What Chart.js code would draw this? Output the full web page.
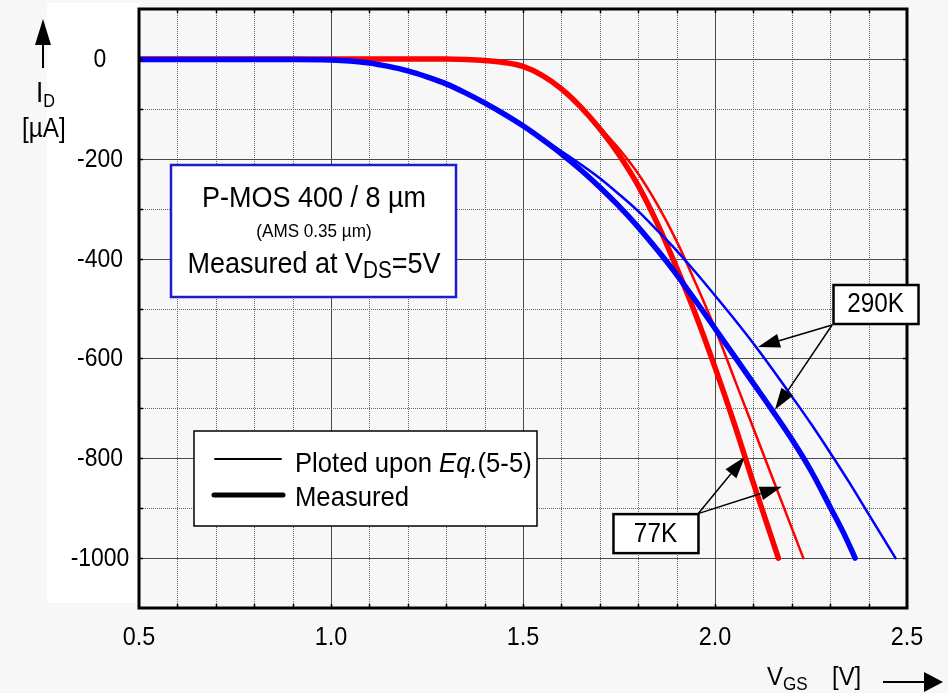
<!DOCTYPE html>
<html>
<head>
<meta charset="utf-8">
<title>P-MOS I_D(V_GS)</title>
<script src="https://cdn.jsdelivr.net/npm/chart.js@4.4.0/dist/chart.umd.min.js"></script>
<style>
  html, body { margin: 0; background: #f7f7f7; }
  canvas { display: block; }
</style>
</head>
<body>
<canvas id="chart" width="948" height="693"></canvas>
<script>
// Datos: V_GS [V] e I_D [µA]
const vgs290Meas = [0.5, 0.9, 1.0, 1.05, 1.1, 1.15, 1.2, 1.25, 1.3, 1.35, 1.4, 1.45, 1.5, 1.55, 1.6, 1.65, 1.7,
  1.75, 1.8, 1.85, 1.9, 1.95, 2.0, 2.05, 2.1, 2.15, 2.2, 2.25, 2.3, 2.335, 2.365];
const id290Meas = [-1, -1, -2, -4, -8, -15, -24, -36, -50, -68, -88, -110, -134, -161, -190, -222, -257,
  -295, -337, -383, -432, -485, -540, -595, -650, -705, -762, -825, -898, -950, -1000];

const vgs290Eq = [0.5, 0.9, 1.0, 1.05, 1.1, 1.15, 1.2, 1.25, 1.3, 1.35, 1.4, 1.45, 1.5, 1.55, 1.6, 1.65, 1.7,
  1.75, 1.8, 1.85, 1.9, 1.95, 2.0, 2.05, 2.1, 2.15, 2.2, 2.25, 2.3, 2.35, 2.4, 2.47];
const id290Eq = [-1, -1, -2, -4, -8, -15, -24, -36, -50, -68, -88, -110, -134, -160, -185, -211, -239,
  -271, -305, -344, -384, -428, -474, -521, -570, -622, -676, -731, -789, -849, -912, -1000];

const vgs77Meas = [0.5, 1.0, 1.3, 1.35, 1.4, 1.45, 1.5, 1.55, 1.6, 1.65, 1.7, 1.75, 1.8, 1.85, 1.9, 1.95,
  2.0, 2.05, 2.1, 2.165];
const id77Meas = [0, 0, 0, -1, -3, -7, -15, -33, -60, -96, -140, -192, -254, -330, -418, -513,
  -618, -730, -850, -1000];

const vgs77Eq = [0.5, 1.0, 1.3, 1.35, 1.4, 1.45, 1.5, 1.55, 1.6, 1.65, 1.7, 1.75, 1.8, 1.85, 1.9, 1.95,
  2.0, 2.05, 2.1, 2.15, 2.2, 2.23];
const id77Eq = [0, 0, 0, -1, -3, -7, -15, -33, -60, -96, -137, -180, -230, -292, -365, -450,
  -540, -640, -740, -840, -940, -1000];

// Etiquetas de los ejes
const xTickValues = [0.5, 1.0, 1.5, 2.0, 2.5];
const xTickLabels = ['0.5', '1.0', '1.5', '2.0', '2.5'];
const yTickValues = [0, -200, -400, -600, -800, -1000];
const yTickLabels = ['0', '-200', '-400', '-600', '-800', '-1000'];

// Anotaciones (en unidades de datos): caja y puntas de flecha
const label290 = { text: '290K', x: 2.418, y: -491, from: [2.305, -533], tips: [[2.112, -577], [2.156, -703]] };
const label77  = { text: '77K',  x: 1.845, y: -950, from: [1.956, -911], tips: [[2.078, -797], [2.174, -857]] };

const FONT = "'Liberation Sans', Arial, sans-serif";
const SX = 0.9; // la fuente original es algo estrecha
const RED = '#ff0000';
const BLUE = '#0000ff';

function pts(xs, ys) {
  return xs.map((v, i) => ({ x: v, y: ys[i] }));
}

// Texto estrecho; devuelve el ancho dibujado
function txt(ctx, s, x, y, size, opts = {}) {
  ctx.save();
  ctx.font = `${opts.italic ? 'italic ' : ''}${size}px ${FONT}`;
  ctx.textAlign = opts.align || 'left';
  ctx.textBaseline = opts.base || 'alphabetic';
  ctx.translate(x, y);
  ctx.scale(SX, 1);
  ctx.fillText(s, 0, 0);
  const w = ctx.measureText(s).width * SX;
  ctx.restore();
  return w;
}

function txtWidth(ctx, s, size) {
  ctx.font = `${size}px ${FONT}`;
  return ctx.measureText(s).width * SX;
}

// Texto con subíndice
function drawSub(ctx, x, y, main, sub, size, subSize, rest) {
  let w = txt(ctx, main, x, y, size);
  w += txt(ctx, sub, x + w, y + size * 0.18, subSize);
  if (rest) w += txt(ctx, rest, x + w, y, size);
  return w;
}

function arrow(ctx, x0, y0, x1, y1, len, half) {
  const ang = Math.atan2(y1 - y0, x1 - x0);
  const bx = x1 - len * Math.cos(ang), by = y1 - len * Math.sin(ang);
  ctx.beginPath();
  ctx.moveTo(x0, y0);
  ctx.lineTo(bx, by);
  ctx.stroke();
  ctx.beginPath();
  ctx.moveTo(x1, y1);
  ctx.lineTo(bx + half * Math.sin(ang), by - half * Math.cos(ang));
  ctx.lineTo(bx - half * Math.sin(ang), by + half * Math.cos(ang));
  ctx.closePath();
  ctx.fill();
}

const decor = {
  id: 'decor',
  beforeDatasetsDraw(chart) {
    const { ctx, chartArea: a, scales: { x, y } } = chart;
    ctx.save();
    // panel blanco detrás de las etiquetas del eje Y
    ctx.fillStyle = '#ffffff';
    ctx.fillRect(47, 3, a.left - 47, 600);

    // rejilla: cada 0.1 V y cada 100 µA; mayores sólidas, menores punteadas
    ctx.lineWidth = 1;
    for (let i = 1; i < 20; i++) {
      const px = Math.round(x.getPixelForValue(0.5 + i * 0.1)) + 0.5;
      const major = i % 5 === 0;
      ctx.strokeStyle = major ? '#4a4a4a' : '#666';
      ctx.setLineDash(major ? [] : [1, 1]);
      ctx.beginPath();
      ctx.moveTo(px, a.top);
      ctx.lineTo(px, a.bottom);
      ctx.stroke();
    }
    for (let j = 0; j <= 10; j++) {
      const py = Math.round(y.getPixelForValue(-j * 100)) + 0.5;
      const major = j % 2 === 0;
      ctx.strokeStyle = major ? '#4a4a4a' : '#666';
      ctx.setLineDash(major ? [] : [1, 1]);
      ctx.beginPath();
      ctx.moveTo(a.left, py);
      ctx.lineTo(a.right, py);
      ctx.stroke();
    }
    ctx.restore();
  },
  afterDatasetsDraw(chart) {
    const { ctx, chartArea: a, scales: { x, y } } = chart;
    ctx.save();

    // marco
    ctx.strokeStyle = '#000';
    ctx.lineWidth = 3;
    ctx.strokeRect(a.left, a.top, a.right - a.left, a.bottom - a.top);

    // marcas interiores
    ctx.lineWidth = 1.5;
    ctx.beginPath();
    for (let i = 1; i < 20; i++) {
      const px = Math.round(x.getPixelForValue(0.5 + i * 0.1)) + 0.5;
      ctx.moveTo(px, a.bottom); ctx.lineTo(px, a.bottom - 4);
      ctx.moveTo(px, a.top); ctx.lineTo(px, a.top + 4);
    }
    for (let j = 0; j <= 10; j++) {
      const py = Math.round(y.getPixelForValue(-j * 100)) + 0.5;
      ctx.moveTo(a.left, py); ctx.lineTo(a.left + 4, py);
      ctx.moveTo(a.right, py); ctx.lineTo(a.right - 4, py);
    }
    ctx.stroke();

    // etiquetas de los ejes
    ctx.fillStyle = '#000';
    xTickValues.forEach((v, i) =>
      txt(ctx, xTickLabels[i], x.getPixelForValue(v), 638, 26, { align: 'center', base: 'middle' }));
    yTickValues.forEach((v, i) =>
      txt(ctx, yTickLabels[i], 100, y.getPixelForValue(v) + 1, 25.5, { align: 'center', base: 'middle' }));

    // título eje Y: flecha, I_D y [µA]
    ctx.lineWidth = 2;
    arrow(ctx, 43, 68, 43, 19, 26, 8);
    drawSub(ctx, 36, 102, 'I', 'D', 29, 18);
    txt(ctx, '[µA]', 22, 137, 27);

    // título eje X: V_GS [V] y flecha
    drawSub(ctx, 767, 685, 'V', 'GS', 26.5, 19);
    txt(ctx, '[V]', 832, 685, 26.5);
    arrow(ctx, 883, 682, 943, 682, 19, 10);

    // caja de información
    ctx.fillStyle = '#fff';
    ctx.fillRect(171, 165, 285, 132);
    ctx.strokeStyle = '#1c1cd0';
    ctx.lineWidth = 2.5;
    ctx.strokeRect(171, 165, 285, 132);
    ctx.fillStyle = '#000';
    txt(ctx, 'P-MOS 400 / 8 µm', 314, 207, 30, { align: 'center' });
    txt(ctx, '(AMS 0.35 µm)', 314, 237, 19, { align: 'center' });
    const w3 = txtWidth(ctx, 'Measured at V', 30) + txtWidth(ctx, '=5V', 30) + txtWidth(ctx, 'DS', 23);
    drawSub(ctx, 314 - w3 / 2, 273, 'Measured at V', 'DS', 30, 23, '=5V');

    // leyenda
    ctx.fillStyle = '#fff';
    ctx.fillRect(194, 431, 343, 95);
    ctx.strokeStyle = '#000';
    ctx.lineWidth = 1.5;
    ctx.strokeRect(194, 431, 343, 95);
    ctx.lineCap = 'round';
    ctx.lineWidth = 2;
    ctx.beginPath(); ctx.moveTo(215, 459); ctx.lineTo(281, 459); ctx.stroke();
    ctx.lineWidth = 5;
    ctx.beginPath(); ctx.moveTo(214, 495); ctx.lineTo(283, 495); ctx.stroke();
    ctx.lineCap = 'butt';
    ctx.fillStyle = '#000';
    let lx = 295;
    lx += txt(ctx, 'Ploted upon ', lx, 472, 28.5);
    lx += txt(ctx, 'Eq.', lx, 472, 28.5, { italic: true });
    txt(ctx, '(5-5)', lx, 472, 28.5);
    txt(ctx, 'Measured', 295, 506, 28.5);

    // etiquetas de temperatura con flechas
    [label290, label77].forEach(lb => {
      const cx = x.getPixelForValue(lb.x), cy = y.getPixelForValue(lb.y);
      const fx = x.getPixelForValue(lb.from[0]), fy = y.getPixelForValue(lb.from[1]);
      ctx.strokeStyle = '#000';
      ctx.fillStyle = '#000';
      ctx.lineWidth = 1.5;
      lb.tips.forEach(t => arrow(ctx, fx, fy, x.getPixelForValue(t[0]), y.getPixelForValue(t[1]), 22, 7));
      ctx.fillStyle = '#fff';
      ctx.fillRect(cx - 42, cy - 19, 85, 39);
      ctx.lineWidth = 2.5;
      ctx.strokeRect(cx - 42, cy - 19, 85, 39);
      ctx.fillStyle = '#000';
      txt(ctx, lb.text, cx, cy + 1, 27, { align: 'center', base: 'middle' });
    });

    ctx.restore();
  }
};

const lineDefaults = {
  pointRadius: 0,
  fill: false,
  cubicInterpolationMode: 'monotone',
  borderCapStyle: 'round',
  borderJoinStyle: 'round'
};

new Chart(document.getElementById('chart'), {
  type: 'line',
  data: {
    datasets: [
      { ...lineDefaults, label: 'Measured 290K', data: pts(vgs290Meas, id290Meas), borderColor: BLUE, borderWidth: 5.5, order: 0 },
      { ...lineDefaults, label: 'Eq.(5-5) 290K', data: pts(vgs290Eq, id290Eq), borderColor: BLUE, borderWidth: 2.5, order: 1 },
      { ...lineDefaults, label: 'Eq.(5-5) 77K', data: pts(vgs77Eq, id77Eq), borderColor: RED, borderWidth: 2.5, order: 2 },
      { ...lineDefaults, label: 'Measured 77K', data: pts(vgs77Meas, id77Meas), borderColor: RED, borderWidth: 5.5, order: 3 }
    ]
  },
  options: {
    responsive: false,
    animation: false,
    layout: { padding: { left: 139, right: 41, top: 9, bottom: 85 } },
    plugins: { legend: { display: false }, tooltip: { enabled: false } },
    scales: {
      x: { type: 'linear', min: 0.5, max: 2.5, display: false },
      y: { type: 'linear', min: -1100, max: 100, display: false }
    }
  },
  plugins: [decor]
});
</script>
</body>
</html>
